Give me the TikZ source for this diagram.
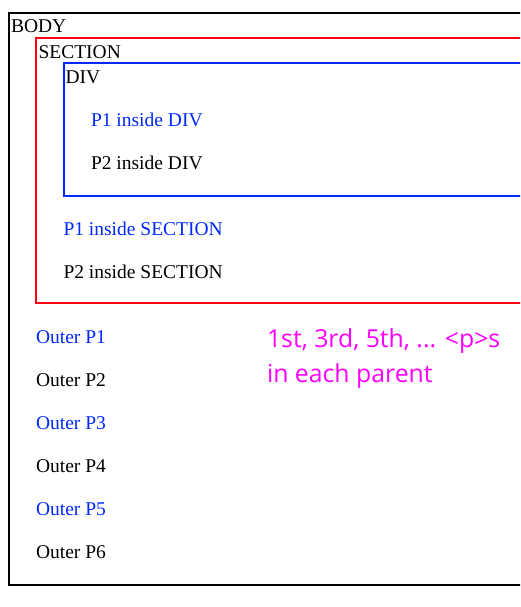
\documentclass[tikz,border=0pt]{standalone}
\usepackage{fontspec}
\setmainfont{Liberation Serif}
\newfontfamily\notefont{Open Sans}
\usetikzlibrary{positioning}

\definecolor{boxred}{RGB}{255,0,20}
\definecolor{boxblue}{RGB}{0,40,255}
\definecolor{notepink}{RGB}{255,0,255}

\tikzset{
  lbl/.style={anchor=base west, inner sep=0pt, font=\fontsize{19.5}{23}\selectfont},
  oddp/.style={lbl, text=boxblue},
  evenp/.style={lbl, text=black},
  note/.style={anchor=base west, inner sep=0pt, align=left, text=notepink,
    font=\notefont\fontsize{24.8}{34.6}\selectfont}
}

\begin{document}
\begin{tikzpicture}[x=1pt,y=-1pt,line width=2pt]
\useasboundingbox (0,0) rectangle (520,607);
\clip (0,0) rectangle (520,607);

% nested boxes
\draw (9.2,13.2) rectangle (540,585);
\draw[boxred] (36.2,38.5) rectangle (540,303.3);
\draw[boxblue] (64,63.5) rectangle (540,195.7);

\node[lbl] (body) at (10,33) {BODY};
\node[lbl] (section) at (37.5,58.3) {SECTION};
\node[lbl] (div) at (64.5,83.3) {DIV};

\node[oddp] (p1div) at (90,126.6) {P1 inside DIV};
\node[evenp] (p2div) at (90,169.6) {P2 inside DIV};

\node[oddp] (p1sec) at (62.5,235.6) {P1 inside SECTION};
\node[evenp] (p2sec) at (62.5,278.6) {P2 inside SECTION};

% outer paragraphs
\foreach \i in {1,...,6}{
  \pgfmathsetmacro{\yy}{343.3+43*(\i-1)}
  \ifodd\i
    \node[oddp] (outer\i) at (35,\yy) {Outer P\i};
  \else
    \node[evenp] (outer\i) at (35,\yy) {Outer P\i};
  \fi
}

% base anchor sits on the last line
\node[note] (hint) at (266,382.3) {1st, 3rd, 5th, ... <p>s\\in each parent};

\end{tikzpicture}
\end{document}
